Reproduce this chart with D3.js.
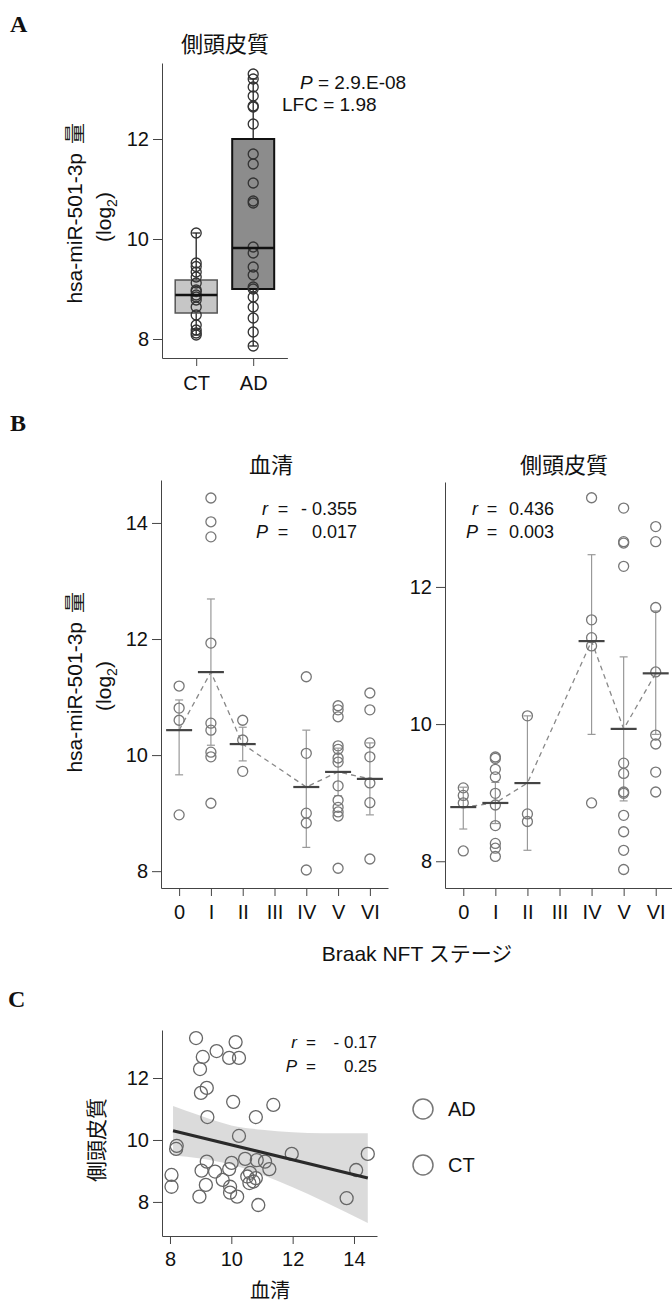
<!DOCTYPE html>
<html>
<head>
<meta charset="utf-8">
<script src="https://cdn.jsdelivr.net/npm/d3@7"></script>
<style>
  body { margin: 0; background: #fff; }
  text { font-family: "Liberation Sans", Arial, "Noto Sans CJK JP", sans-serif; fill: #111; }
  .cjk { font-family: "Noto Sans CJK JP", sans-serif; }
  .letter { font-family: "Liberation Serif", "Times New Roman", serif; font-weight: bold; font-size: 24px; }
  .axis path, .axis line { stroke: #444; }
  .axis text { font-size: 20px; fill: #111; }
</style>
</head>
<body>
<svg id="chart" width="672" height="1306"></svg>
<script>
// ---- Panel A: box plot, temporal cortex ----
const groups = ['CT', 'AD'];
const ctValues = [10.12, 9.52, 9.45, 9.34, 9.24, 9.12, 8.98, 8.95, 8.88, 8.84, 8.78, 8.64, 8.48, 8.28, 8.18, 8.12, 8.08];
const adValues = [13.3, 13.2, 13.04, 12.86, 12.66, 12.64, 12.3, 11.7, 11.5, 11.12, 10.76, 10.72, 9.84, 9.72, 9.44, 9.28, 9.04, 9.0, 8.84, 8.64, 8.42, 8.14, 7.86];
const boxQ1 = [8.52, 9.0];
const boxMedian = [8.88, 9.82];
const boxQ3 = [9.18, 12.0];
const whiskerLo = [8.08, 7.86];
const whiskerHi = [10.12, 13.2];

// ---- Panel B: by Braak NFT stage ----
const stages = ['0', 'I', 'II', 'III', 'IV', 'V', 'VI'];
const serumPoints = [
  [11.19, 10.81, 10.6, 8.97],
  [14.43, 14.02, 13.76, 11.93, 10.55, 10.43, 10.05, 9.97, 9.17],
  [10.6, 10.26, 9.72],
  [],
  [11.35, 10.03, 9.0, 8.83, 8.02],
  [10.85, 10.78, 10.66, 10.16, 10.1, 9.95, 9.88, 9.47, 9.22, 9.1, 9.02, 8.95, 8.05],
  [11.07, 10.78, 10.21, 9.97, 9.52, 9.18, 8.21]
];
const serumMean = [10.43, 11.43, 10.19, null, 9.45, 9.71, 9.59];
const serumErrLo = [9.66, 10.17, 9.9, null, 8.41, 9.3, 8.97];
const serumErrHi = [10.95, 12.69, 10.48, null, 10.43, 10.12, 10.21];

const temporalPoints = [
  [9.07, 8.96, 8.85, 8.15],
  [9.52, 9.5, 9.34, 9.23, 8.99, 8.82, 8.52, 8.26, 8.19, 8.07],
  [10.12, 8.69, 8.58],
  [],
  [13.3, 11.52, 11.26, 11.14, 8.85],
  [13.15, 12.66, 12.64, 12.3, 9.43, 9.28, 9.01, 8.99, 8.67, 8.43, 8.16, 7.88],
  [12.88, 12.66, 11.7, 10.76, 9.84, 9.71, 9.3, 9.01]
];
const temporalMean = [8.79, 8.85, 9.14, null, 11.21, 9.93, 10.74];
const temporalErrLo = [8.47, 8.55, 8.16, null, 9.85, 8.88, 9.85];
const temporalErrHi = [9.08, 9.15, 10.12, null, 12.47, 10.98, 11.65];

// ---- Panel C: serum vs temporal cortex ----
const serumX = [8.85, 9.07, 8.98, 9.52, 10.14, 9.93, 10.25, 9.01, 9.2, 10.06, 11.37, 9.22, 10.8, 10.25, 8.22, 8.2, 11.97, 14.45,
  9.2, 9.03, 9.47, 10.01, 9.93, 10.45, 10.83, 11.1, 11.24, 10.61, 10.52, 10.8, 10.72, 10.59, 9.72, 9.17, 9.96, 9.96, 10.19, 8.96,
  8.05, 8.05, 10.88, 13.76, 14.07];
const temporalY = [13.29, 12.68, 12.29, 12.87, 13.16, 12.65, 12.65, 11.52, 11.68, 11.23, 11.13, 10.74, 10.74, 10.13, 9.81, 9.71, 9.55, 9.55,
  9.3, 9.01, 8.98, 9.26, 9.06, 9.39, 9.35, 9.3, 9.06, 8.94, 8.82, 8.77, 8.66, 8.61, 8.71, 8.55, 8.49, 8.3, 8.17, 8.17,
  8.87, 8.49, 7.9, 8.12, 9.03];
const fitX = [8.1, 14.45];
const fitY = [10.3, 8.77];
const bandX = [8.1, 9, 10, 11, 12, 13, 14.45];
const bandHi = [11.1, 10.78, 10.47, 10.33, 10.25, 10.22, 10.22];
const bandLo = [9.5, 9.4, 9.2, 8.88, 8.47, 8.02, 7.32];
const legendKeys = ['AD', 'CT'];

const svg = d3.select('#chart');
const intFmt = d3.format('d');

function letter(label, x, y) {
  svg.append('text').attr('class', 'letter').attr('x', x).attr('y', y).text(label);
}

function title(label, x, y) {
  svg.append('text').attr('class', 'cjk').attr('x', x).attr('y', y)
    .attr('text-anchor', 'middle').style('font-size', '22px').text(label);
}

// rotated y label: Latin part and the kanji drawn as separate texts
function yLabel(cx, cy) {
  const g = svg.append('g').attr('transform', `translate(${cx},${cy}) rotate(-90)`);
  g.append('text').attr('x', 64).attr('y', 0).attr('text-anchor', 'end')
    .style('font-size', '21px').text('hsa-miR-501-3p');
  g.append('text').attr('class', 'cjk').attr('x', 73).attr('y', 0).attr('text-anchor', 'start')
    .style('font-size', '21px').style('fill-opacity', 0.99).text('量');
  const t = g.append('text').attr('x', 0).attr('y', 29).attr('text-anchor', 'middle').style('font-size', '21px');
  t.append('tspan').text('(log');
  t.append('tspan').attr('dy', 6).style('font-size', '14px').text('2');
  t.append('tspan').attr('dy', -6).text(')');
}

function stat(letterX, eqX, valX, valAnchor, y, sym, val, size) {
  svg.append('text').attr('x', letterX).attr('y', y).attr('text-anchor', 'end')
    .style('font-size', size + 'px').style('font-style', 'italic').text(sym);
  svg.append('text').attr('x', eqX).attr('y', y).attr('text-anchor', 'middle')
    .style('font-size', size + 'px').text('=');
  svg.append('text').attr('x', valX).attr('y', y).attr('text-anchor', valAnchor)
    .style('font-size', size + 'px').text(val);
}

// ================= Panel A =================
letter('A', 10, 32);
title('側頭皮質', 225, 52);
yLabel(82, 217);

const xA = d3.scalePoint().domain(groups).range([162, 287.4]).padding(0.6);
const yA = d3.scaleLinear().domain([7.62, 13.52]).range([358, 63]);

svg.append('g').attr('class', 'axis').attr('transform', 'translate(162,0)')
  .call(d3.axisLeft(yA).tickValues([8, 10, 12]).tickFormat(intFmt).tickSize(9).tickSizeOuter(0).tickPadding(4));
svg.append('g').attr('class', 'axis').attr('transform', 'translate(0,358)')
  .call(d3.axisBottom(xA).tickSize(8).tickSizeOuter(0).tickPadding(10));

const boxW = 42;
groups.forEach((g, i) => {
  const cx = xA(g);
  const gg = svg.append('g');
  gg.append('line').attr('x1', cx).attr('x2', cx)
    .attr('y1', yA(whiskerHi[i])).attr('y2', yA(whiskerLo[i]))
    .attr('stroke', '#222').attr('stroke-width', 1.3);
  [whiskerHi[i], whiskerLo[i]].forEach(v => {
    gg.append('line').attr('x1', cx - 4).attr('x2', cx + 4).attr('y1', yA(v)).attr('y2', yA(v))
      .attr('stroke', '#222').attr('stroke-width', 1.3);
  });
  gg.append('rect').attr('x', cx - boxW / 2).attr('width', boxW)
    .attr('y', yA(boxQ3[i])).attr('height', yA(boxQ1[i]) - yA(boxQ3[i]))
    .attr('fill', i === 0 ? '#c6c6c6' : '#8c8c8c')
    .attr('stroke', i === 0 ? '#555' : '#111').attr('stroke-width', i === 0 ? 1.5 : 2);
  const pts = i === 0 ? ctValues : adValues;
  gg.selectAll('circle').data(pts).enter().append('circle')
    .attr('cx', cx).attr('cy', d => yA(d)).attr('r', 5)
    .attr('fill', 'none').attr('stroke', '#333').attr('stroke-width', 1.3);
  gg.append('line').attr('x1', cx - boxW / 2).attr('x2', cx + boxW / 2)
    .attr('y1', yA(boxMedian[i])).attr('y2', yA(boxMedian[i]))
    .attr('stroke', '#111').attr('stroke-width', 2.5);
});

svg.append('text').attr('x', 300).attr('y', 89).style('font-size', '19px')
  .call(t => {
    t.append('tspan').style('font-style', 'italic').text('P');
    t.append('tspan').text(' = 2.9.E-08');
  });
svg.append('text').attr('x', 282).attr('y', 111).style('font-size', '19px').text('LFC = 1.98');

// ================= Panel B =================
letter('B', 10, 431);
yLabel(82, 686);

function stagePanel(opts) {
  const x = d3.scalePoint().domain(stages).range(opts.xRange).padding(0.57);
  const y = d3.scaleLinear().domain(opts.yDomain).range([888, opts.yTop]);
  svg.append('g').attr('class', 'axis').attr('transform', `translate(${opts.xRange[0]},0)`)
    .call(d3.axisLeft(y).tickValues(opts.ticks).tickFormat(intFmt).tickSize(9).tickSizeOuter(0).tickPadding(4));
  svg.append('g').attr('class', 'axis').attr('transform', 'translate(0,888)')
    .call(d3.axisBottom(x).tickSize(8).tickSizeOuter(0).tickPadding(9));

  const meanData = stages.map((s, i) => ({ s, m: opts.mean[i] })).filter(d => d.m !== null);
  svg.append('path').datum(meanData)
    .attr('d', d3.line().x(d => x(d.s)).y(d => y(d.m)))
    .attr('fill', 'none').attr('stroke', '#888').attr('stroke-width', 1.3).attr('stroke-dasharray', '5,4');

  stages.forEach((s, i) => {
    const cx = x(s);
    if (opts.mean[i] !== null) {
      svg.append('line').attr('x1', cx).attr('x2', cx)
        .attr('y1', y(opts.hi[i])).attr('y2', y(opts.lo[i]))
        .attr('stroke', '#999').attr('stroke-width', 1.2);
      [opts.hi[i], opts.lo[i]].forEach(v => {
        svg.append('line').attr('x1', cx - 4).attr('x2', cx + 4).attr('y1', y(v)).attr('y2', y(v))
          .attr('stroke', '#999').attr('stroke-width', 1.2);
      });
    }
    svg.append('g').selectAll('circle').data(opts.points[i]).enter().append('circle')
      .attr('cx', cx).attr('cy', d => y(d)).attr('r', 5)
      .attr('fill', 'none').attr('stroke', '#777').attr('stroke-width', 1.3);
    if (opts.mean[i] !== null) {
      svg.append('line').attr('x1', cx - 13).attr('x2', cx + 13)
        .attr('y1', y(opts.mean[i])).attr('y2', y(opts.mean[i]))
        .attr('stroke', '#444').attr('stroke-width', 2.2);
    }
  });
}

title('血清', 271, 473);
stagePanel({
  xRange: [161, 388], yDomain: [7.71, 14.74], yTop: 480, ticks: [8, 10, 12, 14],
  points: serumPoints, mean: serumMean, lo: serumErrLo, hi: serumErrHi
});
stat(268, 283, 357, 'end', 515, 'r', '- 0.355', 18);
stat(268, 283, 357, 'end', 538, 'P', '0.017', 18);

title('側頭皮質', 564, 473);
stagePanel({
  xRange: [445, 674], yDomain: [7.61, 13.53], yTop: 482, ticks: [8, 10, 12],
  points: temporalPoints, mean: temporalMean, lo: temporalErrLo, hi: temporalErrHi
});
stat(478, 492, 509, 'start', 515, 'r', '0.436', 18);
stat(478, 492, 509, 'start', 538, 'P', '0.003', 18);

svg.append('text').attr('x', 417).attr('y', 961).attr('text-anchor', 'middle')
  .style('font-size', '21px')
  .call(t => {
    t.append('tspan').text('Braak NFT ');
    t.append('tspan').attr('class', 'cjk').text('ステージ');
  });

// ================= Panel C =================
letter('C', 8, 1007);

const xC = d3.scaleLinear().domain([7.74, 14.75]).range([162, 377]);
const yC = d3.scaleLinear().domain([6.9, 13.55]).range([1236, 1030]);

svg.append('g').attr('class', 'axis').attr('transform', 'translate(162,0)')
  .call(d3.axisLeft(yC).tickValues([8, 10, 12]).tickFormat(intFmt).tickSize(9).tickSizeOuter(0).tickPadding(4));
svg.append('g').attr('class', 'axis').attr('transform', 'translate(0,1236)')
  .call(d3.axisBottom(xC).tickValues([8, 10, 12, 14]).tickFormat(intFmt).tickSize(8).tickSizeOuter(0).tickPadding(8));

const band = bandX.map((v, i) => ({ x: v, lo: bandLo[i], hi: bandHi[i] }));
svg.append('path').datum(band)
  .attr('d', d3.area().curve(d3.curveMonotoneX).x(d => xC(d.x)).y0(d => yC(d.lo)).y1(d => yC(d.hi)))
  .attr('fill', '#cfcfcf').attr('fill-opacity', 0.75);

svg.append('g').selectAll('circle').data(serumX).enter().append('circle')
  .attr('cx', d => xC(d)).attr('cy', (d, i) => yC(temporalY[i])).attr('r', 6.5)
  .attr('fill', 'none').attr('stroke', '#666').attr('stroke-width', 1.3);

svg.append('path').datum(fitX.map((v, i) => [v, fitY[i]]))
  .attr('d', d3.line().x(d => xC(d[0])).y(d => yC(d[1])))
  .attr('stroke', '#2a2a2a').attr('stroke-width', 3).attr('fill', 'none');

stat(297, 311, 377, 'end', 1048, 'r', '- 0.17', 17);
stat(297, 311, 377, 'end', 1072, 'P', '0.25', 17);

svg.append('text').attr('class', 'cjk')
  .attr('transform', 'translate(104,1140) rotate(-90)').attr('text-anchor', 'middle')
  .style('font-size', '21px').text('側頭皮質');
svg.append('text').attr('class', 'cjk').attr('x', 270).attr('y', 1298).attr('text-anchor', 'middle')
  .style('font-size', '20px').text('血清');

const legend = svg.append('g').selectAll('g').data(legendKeys).enter().append('g')
  .attr('transform', (d, i) => `translate(423,${1109 + i * 56})`);
legend.append('circle').attr('r', 10).attr('fill', 'none').attr('stroke', '#777').attr('stroke-width', 1.5);
legend.append('text').attr('x', 25).attr('y', 7).style('font-size', '20px').text(d => d);
</script>
</body>
</html>
